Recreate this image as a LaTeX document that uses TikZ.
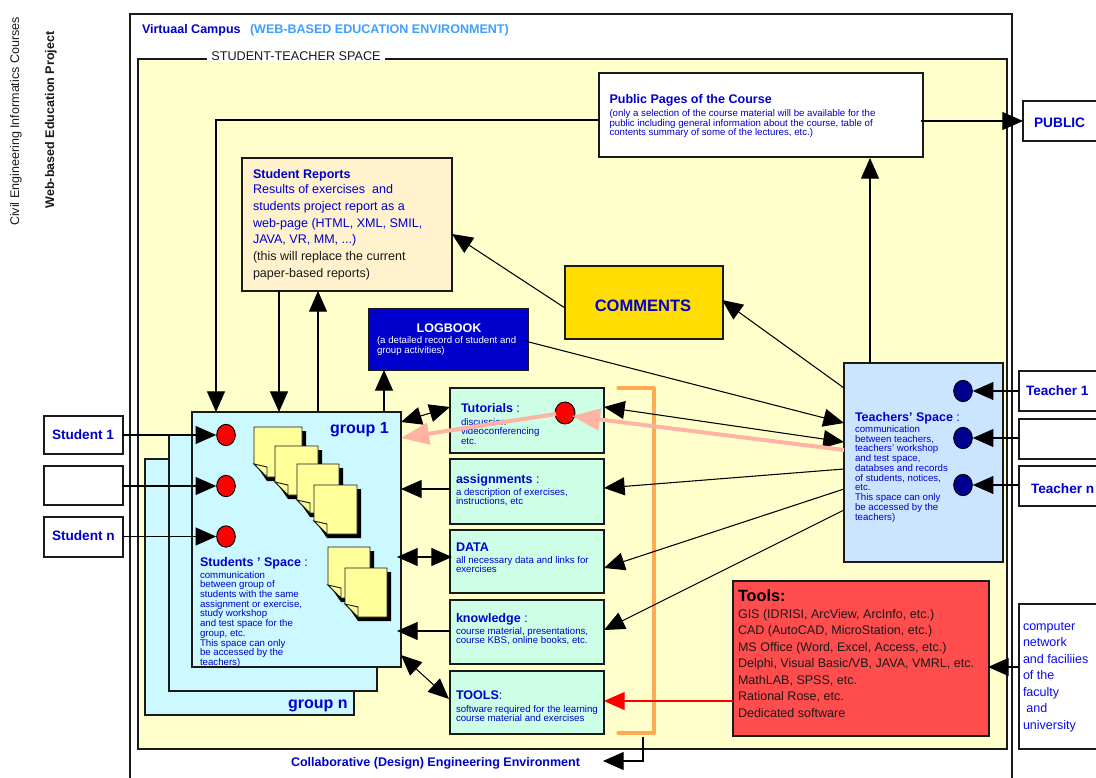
\documentclass[tikz,border=0pt]{standalone}
\usepackage{fontspec}
\setmainfont{Liberation Sans}
\usetikzlibrary{arrows.meta,calc,shapes.geometric}
\definecolor{tblue}{HTML}{0000CC}
\definecolor{lblue}{HTML}{3F9FFF}
\definecolor{pureblue}{HTML}{0A0AF0}
\definecolor{navy}{HTML}{000090}
\definecolor{spacey}{HTML}{FFFFCC}
\definecolor{grp}{HTML}{CCF8FF}
\definecolor{grn}{HTML}{CCFFE6}
\definecolor{tch}{HTML}{CCE5FF}
\definecolor{rep}{HTML}{FFF2CC}
\definecolor{cmt}{HTML}{FFDD00}
\definecolor{tls}{HTML}{FF4C4C}
\definecolor{org}{HTML}{FFAA55}
\definecolor{sal}{HTML}{FFB3A3}
\definecolor{notey}{HTML}{FFFF99}
\definecolor{edge}{HTML}{1A1A1A}
\tikzset{
  bxs/.style={draw=edge,line width=0.85pt,anchor=north west,inner sep=0,outer sep=0},
  lbl/.style={anchor=mid west,inner sep=0,outer sep=0,align=left,yshift=-0.8pt},
  blk/.style={anchor=north west,inner sep=0,outer sep=0,align=left},
  bt/.style={font=\fontsize{9.4}{11}\selectfont\bfseries,text=tblue},
  bt2/.style={font=\fontsize{10.2}{12}\selectfont\bfseries,text=tblue},
  small/.style={font=\fontsize{7.25}{7.3}\selectfont,text=tblue},
  arr/.style={-{Triangle[length=15.5pt,width=13.5pt]},line width=0.8pt,draw=black},
  barr/.style={{Triangle[length=15.5pt,width=13.5pt]}-{Triangle[length=15.5pt,width=13.5pt]},line width=0.8pt,draw=black},
  salarr/.style={-{Triangle[length=21pt,width=16pt]},line width=3pt,draw=sal},
  dot/.style={draw=black,line width=0.7pt,ellipse,inner sep=0,minimum width=14pt,minimum height=16pt},
}
\newcommand\bx[6]{\node[bxs,#6,minimum width={(#4-#2)*0.75pt},minimum height={(#5-#3)*0.75pt}] (#1) at (#2,#3) {};}
\newcommand\on[3]{([shift={(#2,#3)}]#1.north west)}
\newcommand\notesheet[4]{%
  \fill[black] (#1+4,#2+4) -- (#3+4,#2+4) -- (#3+4,#4+4) -- (#1+13,#4+4) -- (#1+4,#4-9) -- cycle;
  \draw[fill=notey,draw=edge,line width=0.7pt] (#1,#2) -- (#3,#2) -- (#3,#4) -- (#1+13,#4) -- (#1,#4-13) -- cycle;
  \draw[fill=notey,draw=edge,line width=0.7pt] (#1,#4-13) -- (#1+13,#4-10) -- (#1+13,#4) -- cycle;}
\begin{document}
\begin{tikzpicture}[x=0.75pt,y=-0.75pt]
\useasboundingbox (0,0) rectangle (1096,778);
\clip (0,0) rectangle (1096,778);
\fill[white] (0,0) rectangle (1096,778);
% side labels
\node[rotate=90,inner sep=0,font=\fontsize{9.4}{11}\selectfont,text=edge] (civil) at (16,121.5) {Civil Engineering Informatics Courses};
\node[rotate=90,inner sep=0,font=\fontsize{9.4}{11}\selectfont\bfseries,text=edge] (web) at (51,120) {Web-based Education Project};
% frames
\draw[edge,line width=0.85pt] (130,790) -- (130,14) -- (1012,14) -- (1012,790);
\node[lbl,bt] (campus) at (142,29) {Virtuaal Campus};
\node[lbl,font=\fontsize{9.4}{11}\selectfont\bfseries,text=lblue] (webenv) at (250,29) {(WEB-BASED EDUCATION ENVIRONMENT)};
\bx{space}{138}{59}{1007}{749}{fill=spacey}
\node[fill=white,inner xsep=3pt,inner ysep=1pt,font=\fontsize{9.5}{11}\selectfont,text=edge] (stsp) at (296,56) {STUDENT-TEACHER SPACE};
\node[bt,inner sep=0] (collab) at (435.5,763.5) {Collaborative (Design) Engineering Environment};
% top boxes
\bx{public}{599}{73}{923}{157}{fill=white}
\node[lbl,bt] (pubt) at (609.5,99) {Public Pages of the Course};
\node[blk,small] (pubs) at (609.5,109.5) {(only a selection of the course material will be available for the\\public including general information about the course, table of\\contents summary of some of the lectures, etc.)};
\bx{PUBLIC}{1023}{101}{1110}{141}{fill=white}
\node[lbl,font=\fontsize{10.3}{12}\selectfont\bfseries,text=tblue] (pubw) at (1034,123) {PUBLIC};
\bx{reports}{242}{158}{452}{291}{fill=rep}
\node[lbl,bt] (rept) at (253,174) {Student Reports};
\node[blk,text=tblue,font=\fontsize{9.4}{12.6}\selectfont] (repb) at (253,184.5) {Results of exercises\ \ and\\students project report as a\\web-page (HTML, XML, SMIL,\\JAVA, VR, MM, ...)\\\textcolor{edge}{(this will replace the current}\\\textcolor{edge}{paper-based reports)}};
\bx{logbook}{369}{309}{528}{370}{fill=tblue}
\node[inner sep=0,font=\fontsize{9.4}{11}\selectfont\bfseries,text=white] (logt) at (449,328) {LOGBOOK};
\node[blk,small,text=white] (logs) at (377,336.5) {(a detailed record of student and\\group activities)};
\bx{comments}{565}{266}{723}{339}{fill=cmt}
\node[inner sep=0,font=\fontsize{12.4}{14}\selectfont\bfseries,text=tblue] (cmtt) at (643,306) {COMMENTS};
% teachers
\bx{teachers}{844}{363}{1003}{562}{fill=tch}
\node[lbl,bt] (tcht) at (855,417) {Teachers’ Space \textmd{:}};
\node[blk,small] (tchs) at (855,425.5) {communication\\between teachers,\\teachers’ workshop\\and test space,\\databses and records\\of students, notices,\\etc.\\This space can only\\be accessed by the\\teachers)};
\node[dot,fill=navy] (tc1) at (963,391) {};
\node[dot,fill=navy] (tc2) at (963,438) {};
\node[dot,fill=navy] (tc3) at (963,485) {};
\bx{t1}{1019}{371}{1110}{411}{fill=white}
\bx{t2}{1019}{419}{1110}{459}{fill=white}
\bx{tn}{1019}{466}{1110}{506}{fill=white}
\node[lbl,bt2] (t1t) at (1026,391) {Teacher 1};
\node[lbl,bt2] (tnt) at (1031,489) {Teacher n};
% tools
\bx{tools}{733}{581}{989}{736}{fill=tls}
\node[lbl,font=\fontsize{12.2}{14}\selectfont\bfseries,text=black] (toolt) at (738,597) {Tools:};
\node[blk,font=\fontsize{9.4}{12.4}\selectfont,text=edge] (toolb) at (738,609) {GIS (IDRISI, ArcView, ArcInfo, etc.)\\CAD (AutoCAD, MicroStation, etc.)\\MS Office (Word, Excel, Access, etc.)\\Delphi, Visual Basic/VB, JAVA, VMRL, etc.\\MathLAB, SPSS, etc.\\Rational Rose, etc.\\Dedicated software};
\bx{comp}{1019}{604}{1110}{749}{fill=white}
\node[blk,font=\fontsize{9.4}{12.4}\selectfont,text=pureblue] (compt) at (1023,622) {computer\\network\\and faciliies\\of the\\faculty\\\ and\\university};
% students
\bx{s1}{44}{416}{123}{454}{fill=white}
\bx{s2}{44}{466}{123}{505}{fill=white}
\bx{sn}{44}{517}{123}{557}{fill=white}
\node[lbl,bt2] (s1t) at (52,435) {Student 1};
\node[lbl,bt2] (snt) at (52,536) {Student n};
% groups
\bx{groupn}{145}{459}{354}{715}{fill=grp}
\bx{group2}{169}{435}{377}{691}{fill=grp}
\bx{group1}{192}{412}{401}{667}{fill=grp}
\node[lbl,font=\fontsize{12}{14}\selectfont\bfseries,text=tblue] (g1t) at (330,429) {group 1};
\node[lbl,font=\fontsize{12}{14}\selectfont\bfseries,text=tblue] (gnt) at (288,704) {group n};
\node[dot,fill=red] (s1c) at (226,435) {};
\node[dot,fill=red] (s2c) at (226,486) {};
\node[dot,fill=red] (s3c) at (226,536.5) {};
\notesheet{254}{427}{302}{477}
\notesheet{275}{446}{318}{495}
\notesheet{297}{464}{339}{513}
\notesheet{314}{485}{357}{534}
\notesheet{328}{547}{370}{598}
\notesheet{345}{568}{387}{617}
\node[lbl,bt] (stut) at (200,562) {Students ’ Space \textmd{:}};
\node[blk,small] (stus) at (200,571) {communication\\between group of\\students with the same\\assignment or exercise,\\study workshop\\and test space for the\\group, etc.\\This space can only\\be accessed by the\\teachers)};
% green boxes
\bx{tut}{450}{388}{604}{453}{fill=grn}
\bx{assign}{450}{459}{604}{524}{fill=grn}
\bx{data}{450}{530}{604}{593}{fill=grn}
\bx{know}{450}{600}{604}{664}{fill=grn}
\bx{toolsb}{450}{671}{604}{734}{fill=grn}
\node[lbl,bt] (tutt) at (461,408) {Tutorials \textmd{:}};
\node[blk,small] (tuts) at (461,418) {discussion\\videoconferencing\\etc.};
\node[lbl,bt] (asgt) at (456,479) {assignments \textmd{:}};
\node[blk,small] (asgs) at (456,488) {a description of exercises,\\instructions, etc};
\node[lbl,bt] (datt) at (456,547) {DATA};
\node[blk,small] (dats) at (456,556) {all necessary data and links for\\exercises};
\node[lbl,bt] (knot) at (456,618) {knowledge \textmd{:}};
\node[blk,small] (knos) at (456,627) {course material, presentations,\\course KBS, online books, etc.};
\node[lbl,bt] (toot) at (456,695) {TOOLS\textmd{:}};
\node[blk,small] (toos) at (456,705) {software required for the learning\\course material and exercises};
\node[dot,fill=red,minimum width=15pt,minimum height=16.5pt] (tdot) at (565,413) {};
% bracket
\draw[org,line width=2.4pt,line cap=round,line join=round] (618,388) -- (654,388) -- (654,733) -- (618,733);
\coordinate (brk) at (643,737);
\coordinate (colend) at (603,761);
\draw[arr] (brk) |- (colend);
% connectors
\draw[arr] \on{public}{0}{47} -| \on{group1}{24}{0};
\draw[arr] \on{reports}{37}{133} -- \on{group1}{87}{0};
\draw[arr] \on{group1}{126}{0} -- \on{reports}{76}{133};
\draw[arr] \on{group1}{192}{0} -- \on{logbook}{15}{61};
\draw[arr] \on{logbook}{156}{32} -- \on{teachers}{0}{60};
\draw[arr] \on{teachers}{0}{25} -- \on{comments}{157}{34};
\draw[arr] \on{comments}{0}{42} -- \on{reports}{210}{76};
\draw[arr] \on{teachers}{26}{0} -- \on{public}{271}{85};
\draw[arr] \on{public}{322}{48} -- \on{PUBLIC}{0}{20};
\draw[barr] \on{tut}{154}{19} -- \on{teachers}{0}{79};
\draw[arr] \on{teachers}{0}{106} -- \on{assign}{154}{29};
\draw[arr] \on{teachers}{0}{126} -- \on{data}{154}{38};
\draw[arr] \on{teachers}{0}{147} -- \on{know}{154}{30};
\draw[arr,draw=red,red] \on{tools}{0}{120} -- \on{toolsb}{154}{30};
\draw[barr] \on{group1}{209}{10} -- \on{tut}{0}{19};
\draw[arr] \on{assign}{0}{30} -- \on{group1}{209}{77};
\draw[barr] \on{data}{2}{27} -- \on{group1}{205}{145};
\draw[arr] \on{know}{0}{31} -- \on{group1}{205}{219};
\draw[barr] \on{group1}{209}{243} -- \on{toolsb}{-1}{28};
\draw[arr] \on{comp}{0}{63} -- \on{tools}{255}{86};
\draw[arr] \on{t1}{0}{20} -- (tc1.east);
\draw[arr] \on{t2}{0}{19} -- (tc2.east);
\draw[arr] \on{tn}{0}{19} -- (tc3.east);
\draw[arr] \on{s1}{78}{19} -- (s1c.west);
\draw[arr] \on{s2}{78}{20} -- (s2c.west);
\draw[arr] \on{sn}{78}{19.5} -- (s3c.west);
\draw[salarr] \on{teachers}{0}{87} -- ([shift={(7,3)}]tdot.center);
\draw[salarr] ([shift={(-9,1)}]tdot.center) -- \on{group1}{209}{26};
\end{tikzpicture}
\end{document}
